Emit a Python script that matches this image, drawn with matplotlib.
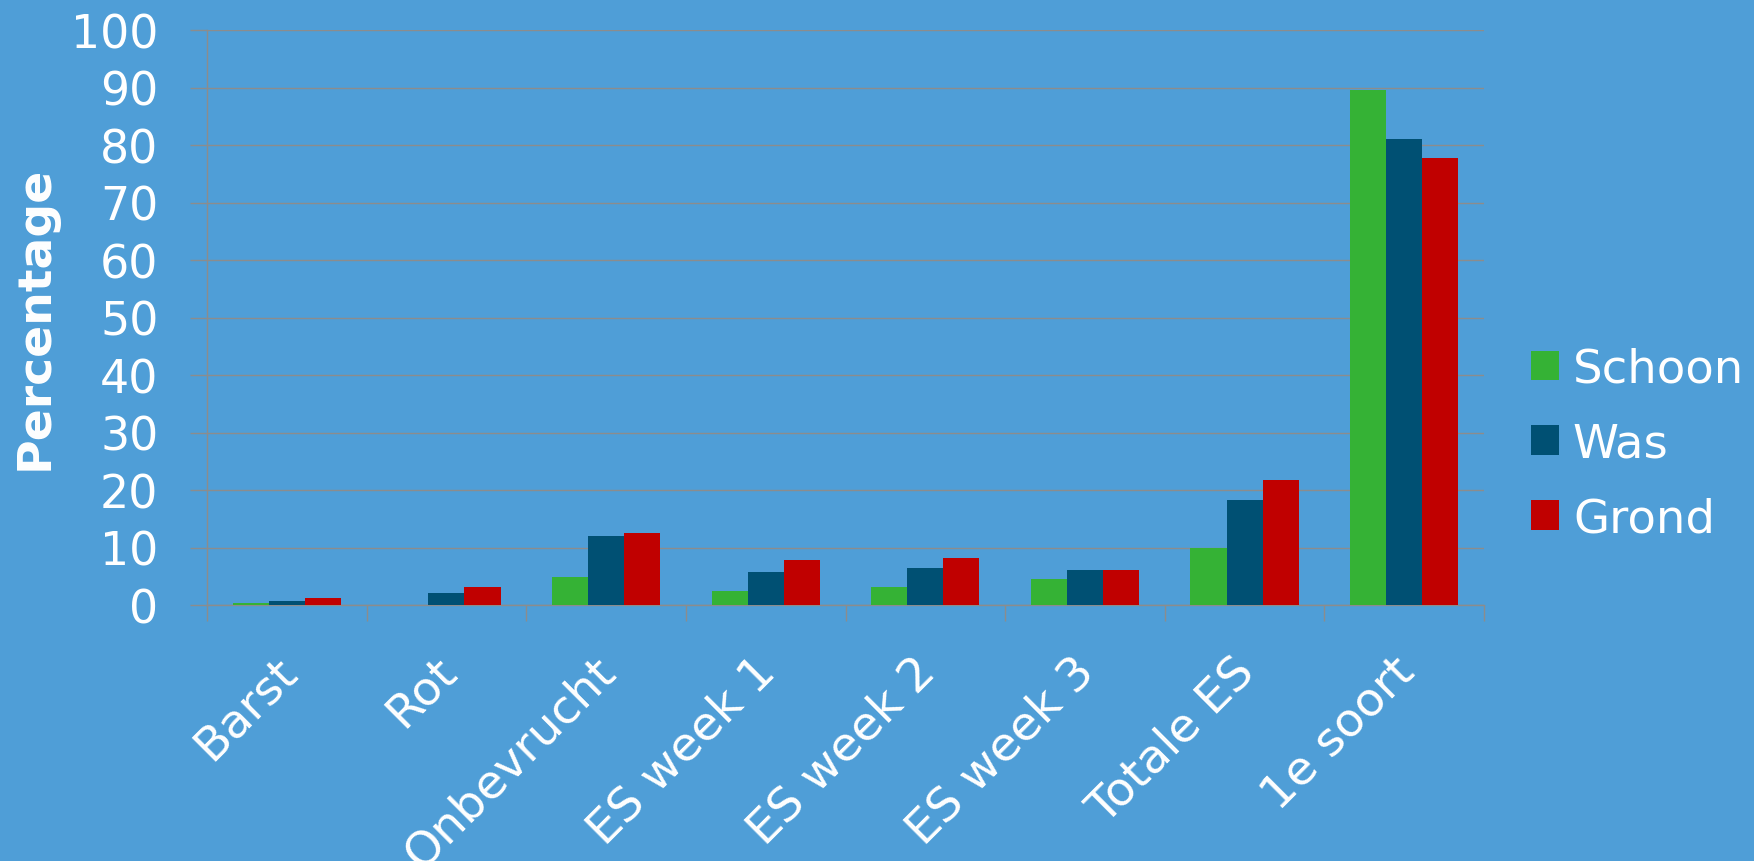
import matplotlib
matplotlib.use("Agg")
import numpy as np
import matplotlib.pyplot as plt
from matplotlib.transforms import ScaledTranslation

# waarden
categories = ['Barst', 'Rot', 'Onbevrucht', 'ES week 1', 'ES week 2',
              'ES week 3', 'Totale ES', '1e soort']
schoon = [0.3, 0.0, 4.9, 2.5, 3.2, 4.5, 9.9, 89.5]
was = [0.7, 2.1, 12.0, 5.7, 6.4, 6.1, 18.3, 81.1]
grond = [1.2, 3.2, 12.6, 7.8, 8.2, 6.1, 21.8, 77.8]
series_names = ['Schoon', 'Was', 'Grond']
colors = ['#35B235', '#005073', '#C00000']

bg = '#4F9ED7'
gridc = '#8C8C8C'

plt.rcParams['font.family'] = ['DejaVu Sans']

fig = plt.figure(figsize=(17.54, 8.62), dpi=100, facecolor=bg)
ax = fig.add_axes([207/1754, 1 - 606/862, (1484 - 207)/1754, (606 - 31)/862])
ax.set_facecolor(bg)

x = np.arange(len(categories))
w = 0.226
for i, (vals, name, c) in enumerate(zip([schoon, was, grond], series_names, colors)):
    ax.bar(x + (i - 1) * w, vals, width=w, color=c, label=name, zorder=3)

ax.set_xlim(-0.5, len(categories) - 0.5)
ax.set_ylim(0, 100)
ax.set_yticks(range(0, 101, 10))
ax.yaxis.grid(True, color=gridc, linewidth=1.0, zorder=0)

for s in ['top', 'right']:
    ax.spines[s].set_visible(False)
for s in ['left', 'bottom']:
    ax.spines[s].set_color(gridc)
    ax.spines[s].set_linewidth(1.0)

ax.tick_params(axis='y', colors=gridc, length=12, width=1.0, labelcolor='white',
               labelsize=33, pad=23)

# tick marks on category boundaries, labels on centres
ax.set_xticks(np.arange(-0.5, len(categories), 1), minor=True)
ax.set_xticks(x)
ax.set_xticklabels(categories, rotation=45, ha='right', va='top',
                   rotation_mode='anchor')
ax.tick_params(axis='x', which='minor', colors=gridc, length=11.5, width=1.0)
ax.tick_params(axis='x', which='major', length=0, labelcolor='white',
               labelsize=34, pad=31)
for lab in ax.get_xticklabels():
    lab.set_transform(lab.get_transform() + ScaledTranslation(-0.13, 0, fig.dpi_scale_trans))

fig.text(35/1754, 1 - 318/862, 'Percentage', rotation=90, color='white',
         fontsize=34, fontweight='bold', ha='center', va='center')

fig.legend(loc='center left', bbox_to_anchor=(1531/1754, 1 - 445/862),
           frameon=False, fontsize=33.5, labelcolor='white',
           handlelength=0.6, handleheight=0.6, handletextpad=0.3,
           labelspacing=0.64, borderpad=0, borderaxespad=0)

fig.savefig('out.png', dpi=100, facecolor=bg)
